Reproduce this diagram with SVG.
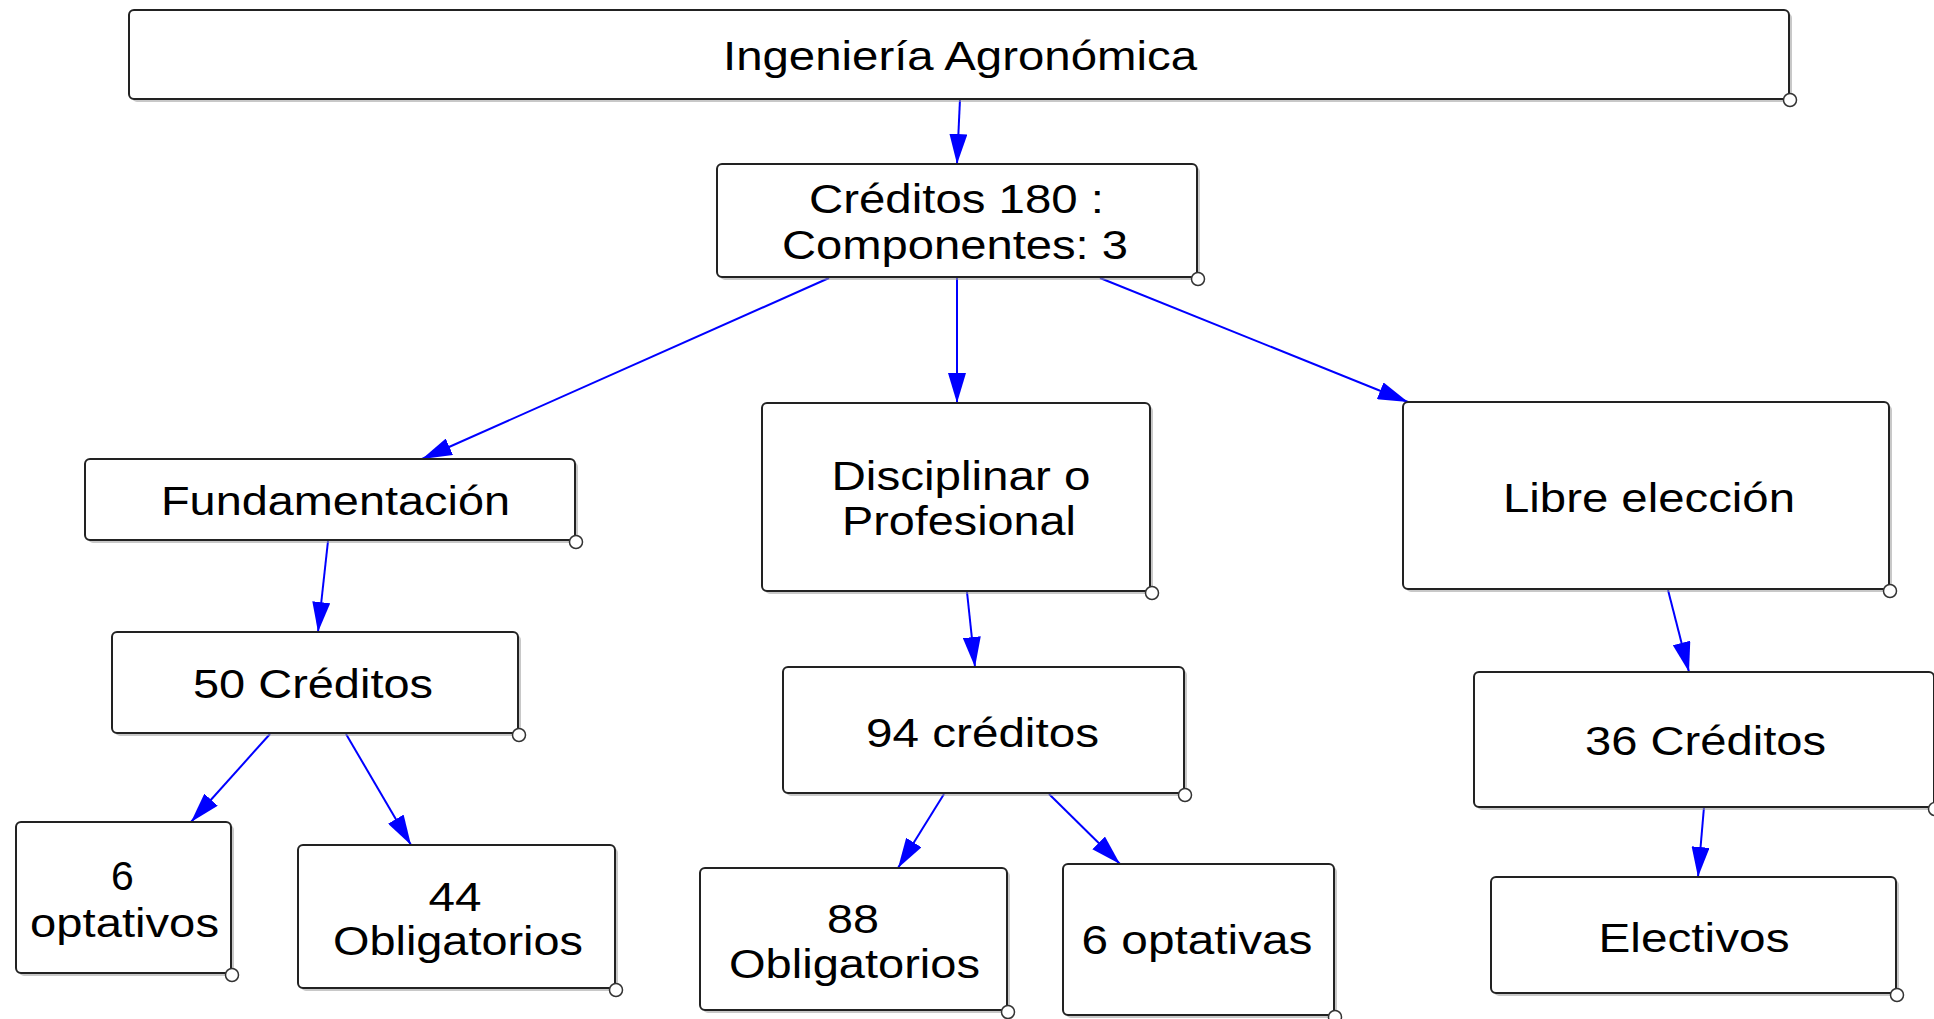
<svg xmlns="http://www.w3.org/2000/svg" width="1934" height="1019" viewBox="0 0 1934 1019">
<defs>
<marker id="ah" markerUnits="userSpaceOnUse" markerWidth="30" markerHeight="18" refX="30" refY="9" orient="auto">
<path d="M0,0 L30,9 L0,18 Z" fill="#0000FF"/>
</marker>
</defs>
<style>
.box{fill:#ffffff;stroke:#222222;stroke-width:2}
.sh{fill:#9a9a9a;opacity:0.55}
.h{fill:#ffffff;stroke:#333333;stroke-width:1.5}
.t{font-family:"Liberation Sans",Arial,sans-serif;font-size:41px;fill:#000000;text-anchor:middle}
.c{stroke:#0000FF;stroke-width:2;fill:none;marker-end:url(#ah)}
</style>
<rect width="1934" height="1019" fill="#ffffff"/>
<g id="connectors">
<line class="c" x1="960" y1="99" x2="957" y2="164"/>
<line class="c" x1="829" y1="278" x2="422" y2="459"/>
<line class="c" x1="957" y1="278" x2="957" y2="403"/>
<line class="c" x1="1100" y1="278" x2="1408" y2="402"/>
<line class="c" x1="328" y1="541" x2="318" y2="632"/>
<line class="c" x1="270" y1="734" x2="191" y2="822"/>
<line class="c" x1="346" y1="734" x2="411" y2="845"/>
<line class="c" x1="967" y1="592" x2="975" y2="667"/>
<line class="c" x1="944" y1="794" x2="898" y2="868"/>
<line class="c" x1="1049" y1="794" x2="1120" y2="864"/>
<line class="c" x1="1668" y1="590" x2="1689" y2="672"/>
<line class="c" x1="1704" y1="807" x2="1698" y2="877"/>
</g>
<g id="n-title">
<rect class="sh" x="132" y="13" width="1660" height="89" rx="5"/>
<rect class="box" x="129" y="10" width="1660" height="89" rx="5"/>
<circle class="h" cx="1790" cy="100" r="6.5"/>
<text class="t" x="960" y="70" textLength="474" lengthAdjust="spacingAndGlyphs">Ingeniería Agronómica</text>
</g>
<g id="n-creditos">
<rect class="sh" x="720" y="167" width="480" height="113" rx="5"/>
<rect class="box" x="717" y="164" width="480" height="113" rx="5"/>
<circle class="h" cx="1198" cy="279" r="6.5"/>
<text class="t" x="956.5" y="213" textLength="295" lengthAdjust="spacingAndGlyphs">Créditos 180 :</text>
<text class="t" x="955" y="259" textLength="346" lengthAdjust="spacingAndGlyphs">Componentes: 3</text>
</g>
<g id="n-fund">
<rect class="sh" x="88" y="462" width="490" height="81" rx="5"/>
<rect class="box" x="85" y="459" width="490" height="81" rx="5"/>
<circle class="h" cx="576" cy="542" r="6.5"/>
<text class="t" x="335.5" y="515" textLength="349" lengthAdjust="spacingAndGlyphs">Fundamentación</text>
</g>
<g id="n-disc">
<rect class="sh" x="765" y="406" width="388" height="188" rx="5"/>
<rect class="box" x="762" y="403" width="388" height="188" rx="5"/>
<circle class="h" cx="1152" cy="593" r="6.5"/>
<text class="t" x="961" y="490" textLength="259" lengthAdjust="spacingAndGlyphs">Disciplinar o</text>
<text class="t" x="959" y="535" textLength="234" lengthAdjust="spacingAndGlyphs">Profesional</text>
</g>
<g id="n-libre">
<rect class="sh" x="1406" y="405" width="486" height="187" rx="5"/>
<rect class="box" x="1403" y="402" width="486" height="187" rx="5"/>
<circle class="h" cx="1890" cy="591" r="6.5"/>
<text class="t" x="1649" y="512" textLength="292" lengthAdjust="spacingAndGlyphs">Libre elección</text>
</g>
<g id="n-50">
<rect class="sh" x="115" y="635" width="406" height="101" rx="5"/>
<rect class="box" x="112" y="632" width="406" height="101" rx="5"/>
<circle class="h" cx="519" cy="735" r="6.5"/>
<text class="t" x="313" y="698" textLength="240" lengthAdjust="spacingAndGlyphs">50 Créditos</text>
</g>
<g id="n-94">
<rect class="sh" x="786" y="670" width="401" height="126" rx="5"/>
<rect class="box" x="783" y="667" width="401" height="126" rx="5"/>
<circle class="h" cx="1185" cy="795" r="6.5"/>
<text class="t" x="982.5" y="747" textLength="233" lengthAdjust="spacingAndGlyphs">94 créditos</text>
</g>
<g id="n-36">
<rect class="sh" x="1477" y="675" width="460" height="135" rx="5"/>
<rect class="box" x="1474" y="672" width="460" height="135" rx="5"/>
<circle class="h" cx="1935" cy="809" r="6.5"/>
<text class="t" x="1705.5" y="755" textLength="241" lengthAdjust="spacingAndGlyphs">36 Créditos</text>
</g>
<g id="n-6opt">
<rect class="sh" x="19" y="825" width="215" height="151" rx="5"/>
<rect class="box" x="16" y="822" width="215" height="151" rx="5"/>
<circle class="h" cx="232" cy="975" r="6.5"/>
<text class="t" x="122.5" y="890">6</text>
<text class="t" x="124.5" y="937" textLength="189" lengthAdjust="spacingAndGlyphs">optativos</text>
</g>
<g id="n-44">
<rect class="sh" x="301" y="848" width="317" height="143" rx="5"/>
<rect class="box" x="298" y="845" width="317" height="143" rx="5"/>
<circle class="h" cx="616" cy="990" r="6.5"/>
<text class="t" x="455" y="911" textLength="53" lengthAdjust="spacingAndGlyphs">44</text>
<text class="t" x="458" y="955" textLength="250" lengthAdjust="spacingAndGlyphs">Obligatorios</text>
</g>
<g id="n-88">
<rect class="sh" x="703" y="871" width="307" height="142" rx="5"/>
<rect class="box" x="700" y="868" width="307" height="142" rx="5"/>
<circle class="h" cx="1008" cy="1012" r="6.5"/>
<text class="t" x="853" y="933" textLength="52" lengthAdjust="spacingAndGlyphs">88</text>
<text class="t" x="854.5" y="978" textLength="251" lengthAdjust="spacingAndGlyphs">Obligatorios</text>
</g>
<g id="n-6opta">
<rect class="sh" x="1066" y="867" width="271" height="151" rx="5"/>
<rect class="box" x="1063" y="864" width="271" height="151" rx="5"/>
<circle class="h" cx="1335" cy="1017" r="6.5"/>
<text class="t" x="1197" y="954" textLength="231" lengthAdjust="spacingAndGlyphs">6 optativas</text>
</g>
<g id="n-elec">
<rect class="sh" x="1494" y="880" width="405" height="116" rx="5"/>
<rect class="box" x="1491" y="877" width="405" height="116" rx="5"/>
<circle class="h" cx="1897" cy="995" r="6.5"/>
<text class="t" x="1694" y="952" textLength="191" lengthAdjust="spacingAndGlyphs">Electivos</text>
</g>
</svg>
